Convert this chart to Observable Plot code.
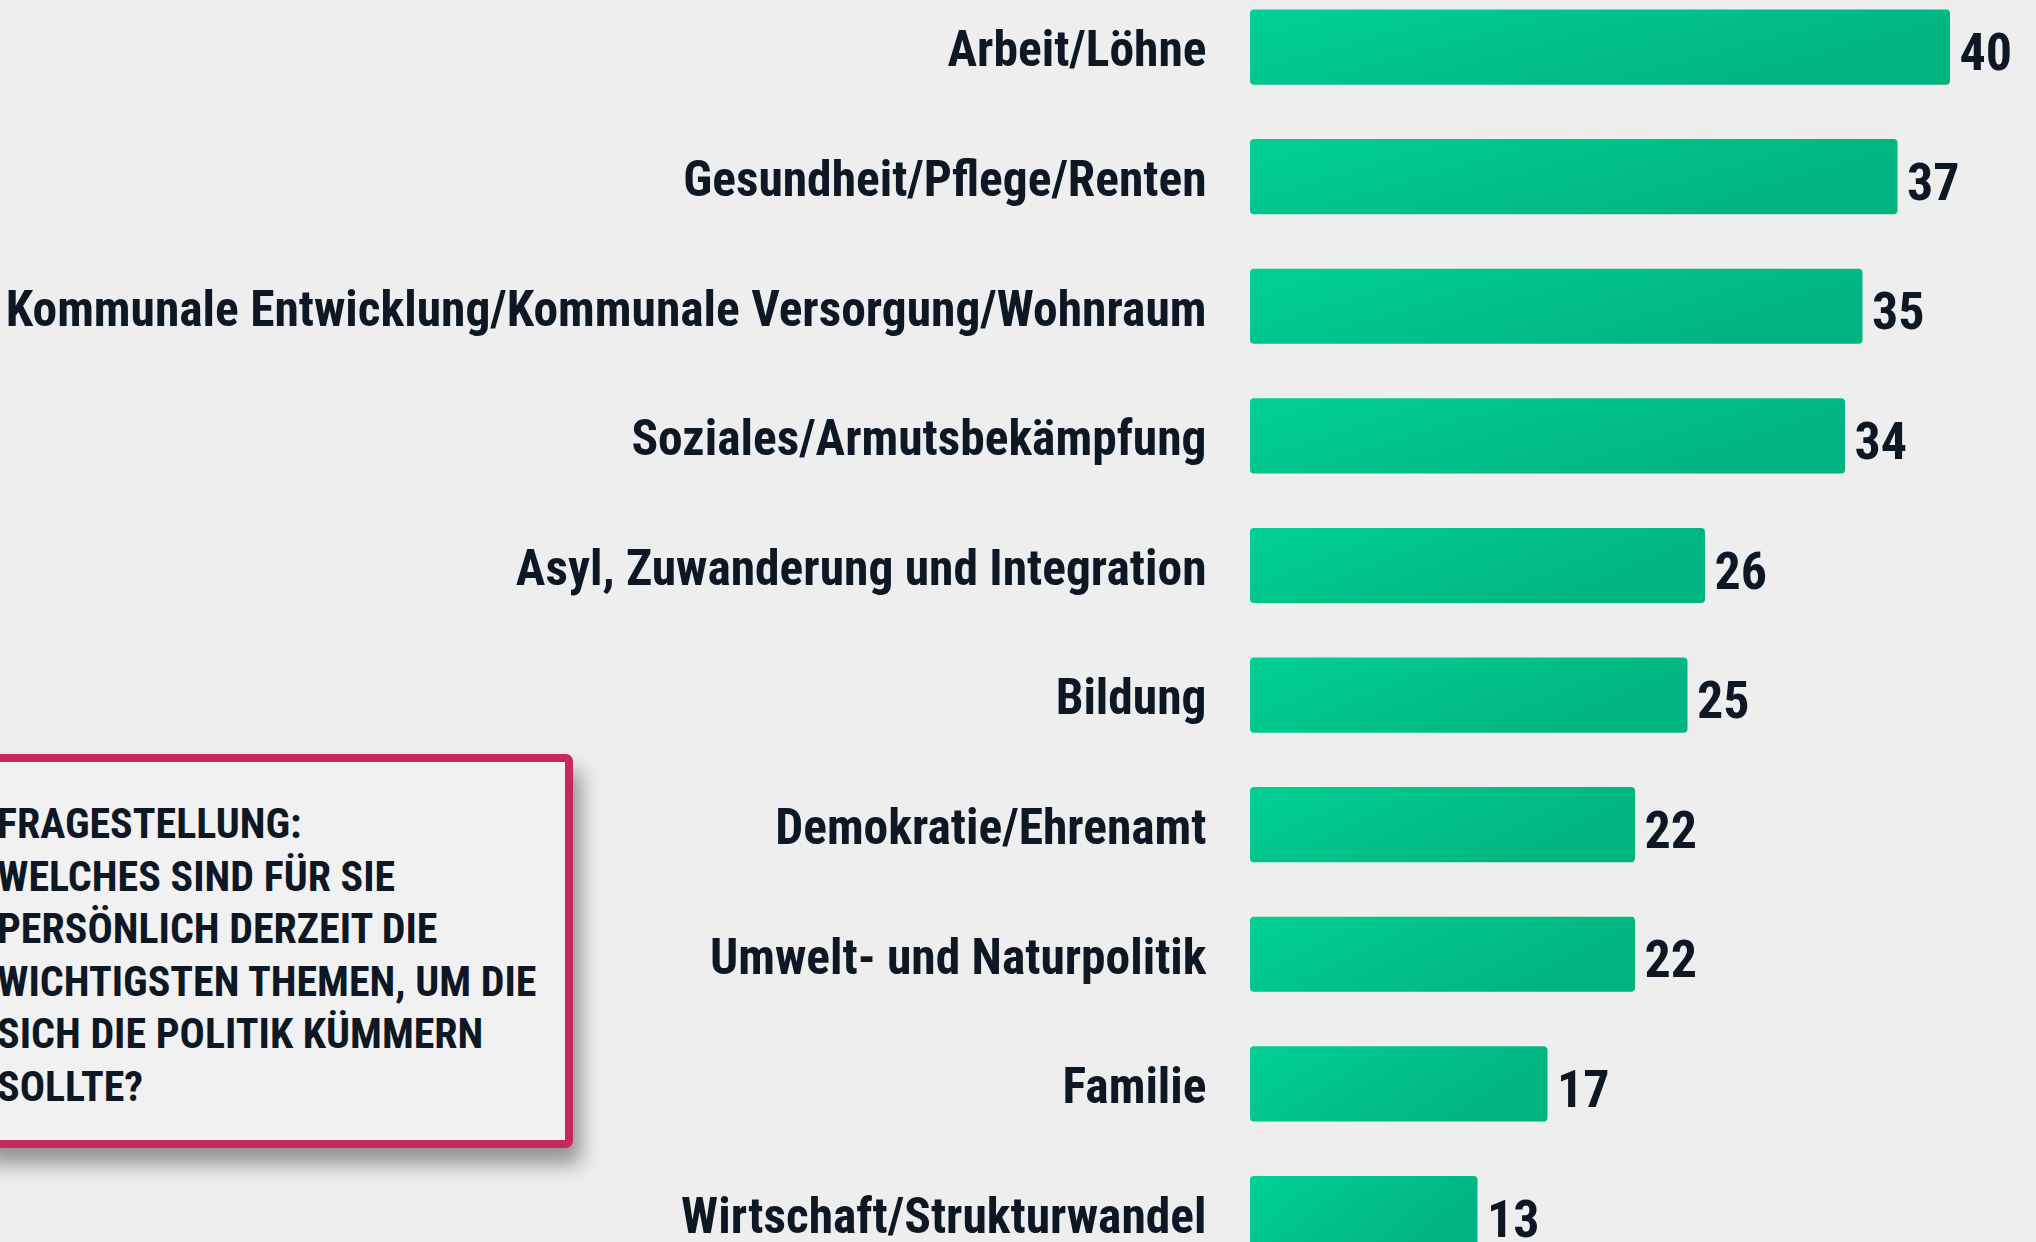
<!DOCTYPE html>
<html>
<head>
<meta charset="utf-8">
<script src="https://cdn.jsdelivr.net/npm/d3@7"></script>
<script src="https://cdn.jsdelivr.net/npm/@observablehq/plot@0.6"></script>
<style>
  html, body { margin: 0; padding: 0; background: #eeeeee; overflow: hidden; }
  #chart svg { display: block; background: linear-gradient(#ebebeb, #f5f5f5); }
</style>
</head>
<body>
<div id="chart"></div>
<script>
// ---- data ----
const topics = [
  "Arbeit/Löhne",
  "Gesundheit/Pflege/Renten",
  "Kommunale Entwicklung/Kommunale Versorgung/Wohnraum",
  "Soziales/Armutsbekämpfung",
  "Asyl, Zuwanderung und Integration",
  "Bildung",
  "Demokratie/Ehrenamt",
  "Umwelt- und Naturpolitik",
  "Familie",
  "Wirtschaft/Strukturwandel"
];
const values = [40, 37, 35, 34, 26, 25, 22, 22, 17, 13];
const questionLines = [
  "FRAGESTELLUNG:",
  "WELCHES SIND FÜR SIE",
  "PERSÖNLICH DERZEIT DIE",
  "WICHTIGSTEN THEMEN, UM DIE",
  "SICH DIE POLITIK KÜMMERN",
  "SOLLTE?"
];

const data = topics.map((t, i) => ({topic: t, value: values[i]}));

const W = 2036, H = 1242;
const FONT = '"Roboto Condensed", "Open Sans Condensed", sans-serif';
const INK = "#0e1724";
const step = 129.6, pad = 0.42, y0 = 9.5;

const svg = Plot.plot({
  width: W,
  height: H,
  marginLeft: 1250,
  marginRight: 86,
  marginTop: 0,
  marginBottom: 0,
  style: {background: "transparent", fontFamily: FONT, color: INK, overflow: "visible"},
  x: {domain: [0, 40], axis: null},
  y: {type: "band", domain: topics, range: [y0, y0 + step * (topics.length - pad)],
      paddingInner: pad, paddingOuter: 0, align: 0, round: false, axis: null},
  marks: [
    Plot.barX(data, {x: "value", y: "topic", fill: "url(#barGrad)", rx: 4}),
    Plot.text(data, {x: 0, y: "topic", text: "topic", textAnchor: "end", dx: -44, dy: 3,
      fontSize: 49.5, fontWeight: "bold", fill: INK}),
    Plot.text(data, {x: "value", y: "topic", text: d => String(d.value), textAnchor: "start",
      dx: 9, dy: 6, fontSize: 52, fontWeight: "bold", fill: INK})
  ]
});

const s = d3.select(svg);
const defs = s.insert("defs", ":first-child");
const g = defs.append("linearGradient").attr("id", "barGrad")
  .attr("x1", 0).attr("y1", 0).attr("x2", 1).attr("y2", 0.4);
g.append("stop").attr("offset", "0%").attr("stop-color", "#00d094");
g.append("stop").attr("offset", "100%").attr("stop-color", "#00b47f");
const f = defs.append("filter").attr("id", "boxShadow")
  .attr("x", "-10%").attr("y", "-10%").attr("width", "130%").attr("height", "140%");
f.append("feDropShadow").attr("dx", 8).attr("dy", 16).attr("stdDeviation", 10)
  .attr("flood-color", "#000").attr("flood-opacity", 0.38);

// question box
const box = s.append("g");
box.append("rect")
  .attr("x", -20).attr("y", 758).attr("width", 589).attr("height", 386)
  .attr("rx", 3)
  .attr("fill", "#f1f1f1").attr("stroke", "#c42b5a").attr("stroke-width", 8)
  .attr("filter", "url(#boxShadow)");
box.selectAll("text.q").data(questionLines).join("text")
  .attr("class", "q")
  .attr("x", -3)
  .attr("y", (d, i) => 838 + i * 52.6)
  .attr("text-anchor", "start")
  .attr("font-family", FONT)
  .attr("font-size", 42)
  .attr("font-weight", "bold")
  .attr("fill", INK)
  .text(d => d);

document.getElementById("chart").appendChild(svg);
</script>
</body>
</html>
